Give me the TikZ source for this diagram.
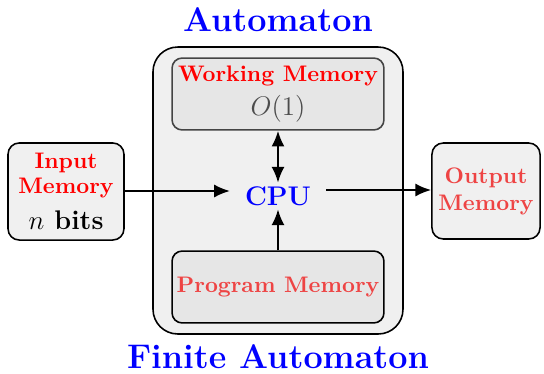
\documentclass[tikz,border=0pt]{standalone}
\usetikzlibrary{arrows.meta}
\definecolor{boxfill}{HTML}{F0F0F0}
\definecolor{innerfill}{HTML}{E6E6E6}
\definecolor{softred}{HTML}{EE4444}
\definecolor{darkborder}{HTML}{444444}
\begin{document}
\begin{tikzpicture}[x=0.445pt,y=-0.445pt,
  outerbox/.style={draw=black,fill=boxfill,line width=0.7pt,rounded corners=5pt,align=center,inner sep=0pt,font=\bfseries},
  innerbox/.style={draw,fill=innerfill,line width=0.7pt,rounded corners=4.5pt,align=center,inner sep=0pt,minimum width=94.3pt,minimum height=32pt,font=\bfseries},
  tip/.tip={Latex[length=7pt,width=5.8pt]},
  arr/.style={-tip,line width=0.9pt},
  title/.style={text=blue,font=\fontsize{15.2}{18}\selectfont\bfseries}]
\useasboundingbox (0,0) rectangle (544,373);
\node[outerbox,rounded corners=11pt,minimum width=111.25pt,minimum height=127.7pt] (auto) at (278,190.5) {};
\node[title] (t1) at (278,20) {Automaton};
\node[title] (t2) at (278,357) {Finite Automaton};
\node[innerbox,draw=darkborder] (work) at (278,94) {\textcolor{red}{Working Memory}\\[3pt]{\large\mdseries\color{black!70}$O(1)$}};
\node[innerbox,draw=black] (prog) at (278,287) {\textcolor{softred}{Program Memory}};
\node[text=blue,font=\large\bfseries,inner xsep=6.5pt,inner ysep=1.5pt] (cpu) at (278,196) {CPU};
\node[outerbox,minimum width=51.6pt,minimum height=43.2pt] (in) at (66,191.5) {\textcolor{red}{Input}\\[-1pt]\textcolor{red}{Memory}\\[4pt]{\large$n$ \textbf{bits}}};
\node[outerbox,minimum width=48.1pt,minimum height=42.7pt] (out) at (486,191) {\textcolor{softred}{Output}\\\textcolor{softred}{Memory}};
\draw[arr] (in.east |- 0,191) -- (cpu.west |- 0,191);
\draw[arr] (cpu.east |- 0,190) -- (out.west |- 0,190);
\draw[arr,tip-tip] (work.south) -- (cpu.north);
\draw[arr] (prog.north) -- (cpu.south);
\end{tikzpicture}
\end{document}
